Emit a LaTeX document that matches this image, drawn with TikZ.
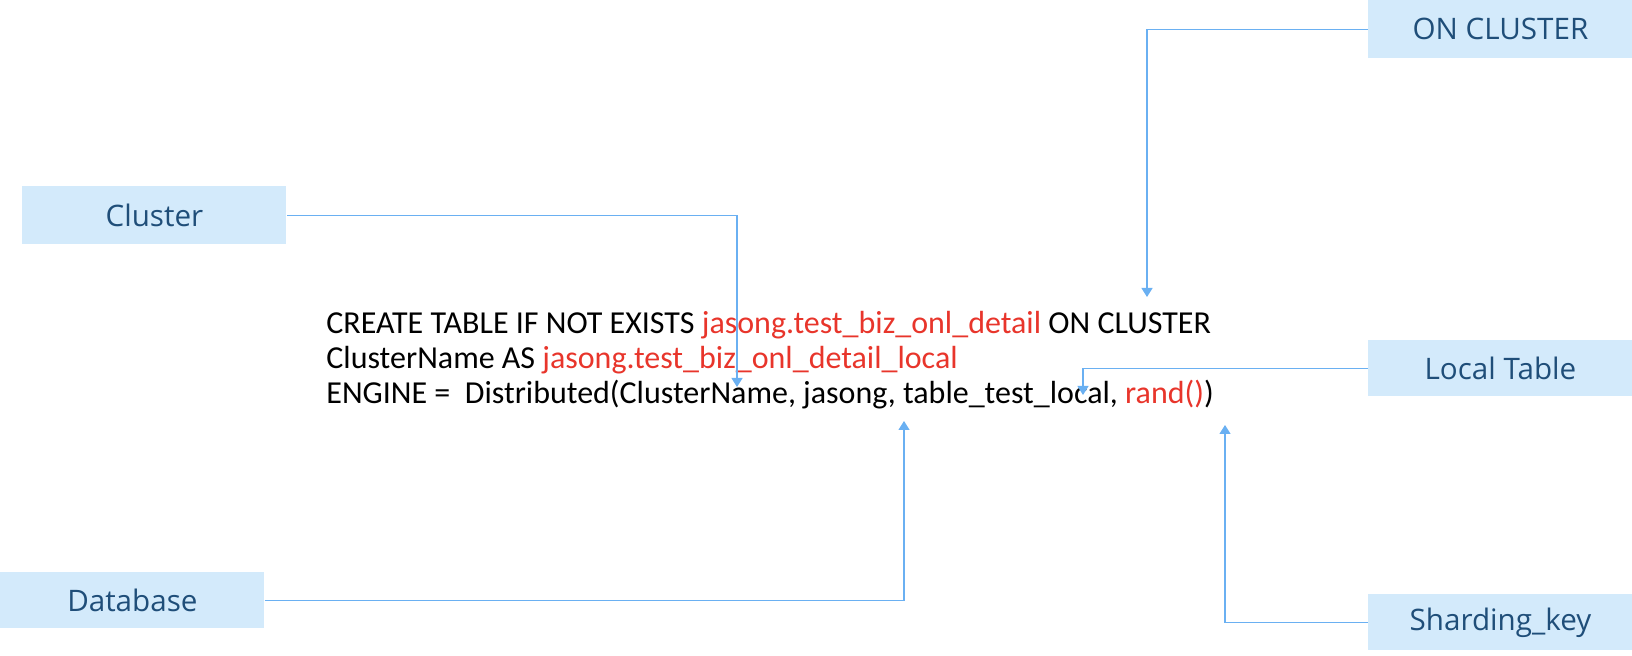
\documentclass[tikz,border=0pt]{standalone}
\usepackage{fontspec}
\usepackage{tikz}
\usepackage{xcolor}
\usetikzlibrary{arrows.meta}
\setmainfont{Carlito}
\newfontfamily\boxfont{Open Sans}
\definecolor{boxfill}{HTML}{D3EAFB}
\definecolor{boxtext}{HTML}{1F4E79}
\definecolor{linkblue}{HTML}{6AB0F2}
\definecolor{codered}{HTML}{E8352B}

\begin{document}
\begin{tikzpicture}[x=0.5pt, y=-0.5pt,
        keybox/.style={rectangle, fill=boxfill, anchor=north west, inner sep=0pt, minimum height=28pt, text=boxtext, font=\boxfont\fontsize{14.8}{17}\selectfont},
        arrow/.style={-{Triangle[length=4.5pt, width=5.5pt]}, draw=linkblue, line width=0.65pt}
    ]
    \useasboundingbox (0,0) rectangle (1632,656);
    \node[keybox, minimum width=132pt, minimum height=29pt] (cluster) at (22,186) {Cluster};
    \node[keybox, minimum width=132pt] (database) at (0,572) {Database};
    \node[keybox, minimum width=132pt, minimum height=29pt] (oncluster) at (1368,0) {ON CLUSTER};
    \node[keybox, minimum width=132pt] (localtable) at (1368,340) {Local Table};
    \node[keybox, minimum width=132pt] (shardkey) at (1368,594) {Sharding\_key};

    % base anchor sits on the last line
    \node[anchor=base west, align=left, inner sep=0pt, font=\fontsize{16}{17.5}\selectfont] (sql) at (326,404)
        {CREATE TABLE IF NOT EXISTS \textcolor{codered}{jasong.test\_biz\_onl\_detail} ON CLUSTER\\
         ClusterName AS \textcolor{codered}{jasong.test\_biz\_onl\_detail\_local}\\
         ENGINE =\ \ Distributed(ClusterName, jasong, table\_test\_local, \textcolor{codered}{rand()})};

    \coordinate (clustertip) at (737,387);
    \coordinate (onclustertip) at (1147,297);
    \coordinate (localtip) at (1083,395);
    \coordinate (dbtip) at (904,421);
    \coordinate (shardtip) at (1225,425);

    \draw[arrow] (cluster.east) -| (clustertip);
    \draw[arrow] (oncluster.west) -| (onclustertip);
    \draw[arrow] (localtable.west) -| (localtip);
    \draw[arrow] (database.east) -| (dbtip);
    \draw[arrow] (shardkey.west) -| (shardtip);
\end{tikzpicture}
\end{document}
